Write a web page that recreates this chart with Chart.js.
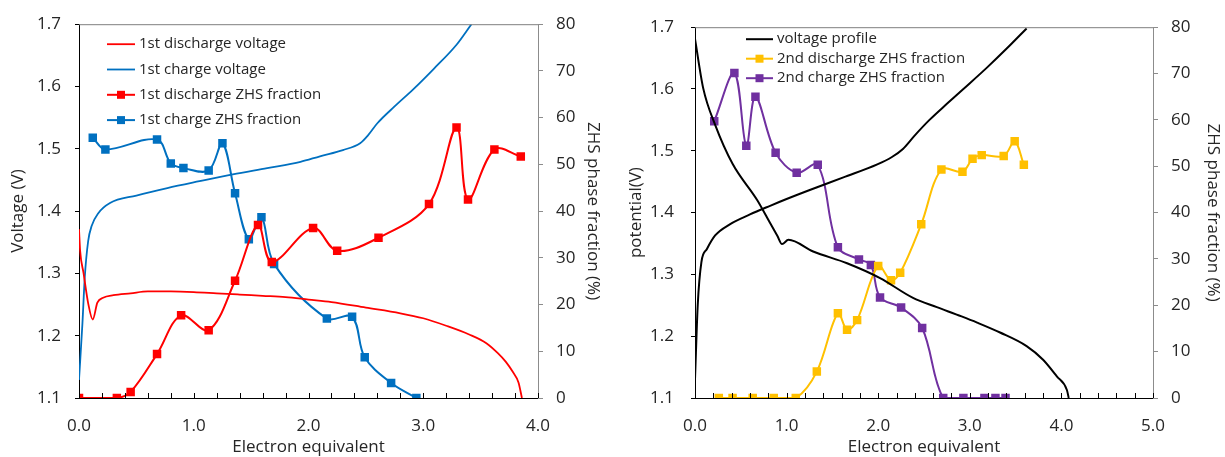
<!DOCTYPE html>
<html>
<head>
<meta charset="utf-8">
<script src="https://cdn.jsdelivr.net/npm/chart.js@4.4.1/dist/chart.umd.min.js"></script>
<style>
  body { margin: 0; background: #fff; }
  .panel { position: absolute; top: 0; height: 457px; }
</style>
</head>
<body>
<div class="panel" style="left:0;width:612px"><canvas id="chartIzq"></canvas></div>
<div class="panel" style="left:612px;width:613px"><canvas id="chartDer"></canvas></div>
<script>
// ---- Panel izquierdo: primer ciclo ----
const descarga1X = [0, 0.01, 0.04, 0.08, 0.12, 0.16, 0.21, 0.3, 0.45, 0.6, 0.8, 1.0, 1.2, 1.4, 1.6, 1.8, 2.0, 2.2, 2.5, 2.8, 3.0, 3.2, 3.4, 3.55, 3.65, 3.72, 3.78, 3.83, 3.86];
const descarga1V = [1.371, 1.336, 1.30, 1.252, 1.226, 1.253, 1.261, 1.265, 1.268, 1.271, 1.271, 1.27, 1.268, 1.266, 1.264, 1.262, 1.258, 1.254, 1.245, 1.236, 1.228, 1.216, 1.202, 1.188, 1.172, 1.158, 1.142, 1.125, 1.10];

const carga1X = [0, 0.03, 0.05, 0.08, 0.11, 0.17, 0.27, 0.5, 0.77, 1.05, 1.34, 1.64, 1.93, 2.10, 2.3, 2.45, 2.52, 2.6, 2.75, 2.91, 3.09, 3.29, 3.42];
const carga1V = [1.129, 1.22, 1.293, 1.352, 1.376, 1.397, 1.413, 1.425, 1.437, 1.448, 1.459, 1.469, 1.479, 1.488, 1.498, 1.509, 1.522, 1.541, 1.568, 1.595, 1.628, 1.667, 1.70];

const zhsDescarga1X = [0, 0.33, 0.45, 0.68, 0.89, 1.13, 1.36, 1.56, 1.68, 2.04, 2.25, 2.61, 3.05, 3.29, 3.39, 3.62, 3.85];
const zhsDescarga1 = [0, 0, 1.3, 9.4, 17.7, 14.5, 25.1, 37.0, 29.1, 36.4, 31.5, 34.3, 41.5, 57.9, 42.5, 53.2, 51.7];

const zhsCarga1X = [0.12, 0.23, 0.68, 0.80, 0.91, 1.13, 1.25, 1.36, 1.48, 1.59, 1.70, 2.16, 2.38, 2.49, 2.72, 2.94];
const zhsCarga1 = [55.7, 53.2, 55.3, 50.2, 49.2, 48.7, 54.5, 43.8, 34.0, 38.7, 28.7, 17.0, 17.4, 8.7, 3.2, 0];

// ---- Panel derecho: segundo ciclo ----
const descarga2X = [0, 0.09, 0.22, 0.41, 0.68, 0.82, 0.9, 0.95, 1.02, 1.29, 1.66, 2.02, 2.38, 2.64, 2.91, 3.08, 3.33, 3.62, 3.80, 3.95, 4.06, 4.08];
const descarga2V = [1.681, 1.601, 1.542, 1.479, 1.42, 1.383, 1.362, 1.349, 1.356, 1.337, 1.318, 1.294, 1.262, 1.247, 1.232, 1.222, 1.206, 1.184, 1.162, 1.135, 1.113, 1.10];

const carga2X = [0, 0.03, 0.07, 0.13, 0.22, 0.38, 0.6, 0.82, 1.0, 1.26, 1.62, 1.99, 2.15, 2.27, 2.4, 2.56, 2.75, 2.93, 3.19, 3.40, 3.62];
const carga2V = [1.13, 1.251, 1.32, 1.341, 1.363, 1.381, 1.397, 1.411, 1.422, 1.437, 1.457, 1.478, 1.49, 1.503, 1.525, 1.55, 1.576, 1.60, 1.635, 1.665, 1.698];

const zhsDescarga2X = [0.26, 0.41, 0.63, 0.86, 1.10, 1.33, 1.56, 1.66, 1.77, 2.0, 2.14, 2.24, 2.47, 2.69, 2.92, 3.03, 3.13, 3.37, 3.49, 3.59];
const zhsDescarga2 = [0, 0, 0, 0, 0, 5.7, 18.3, 14.7, 16.8, 28.5, 25.4, 27.0, 37.5, 49.3, 48.8, 51.6, 52.4, 52.2, 55.4, 50.3];

const zhsCarga2X = [0.21, 0.43, 0.56, 0.66, 0.88, 1.11, 1.34, 1.56, 1.79, 1.92, 2.02, 2.25, 2.48, 2.71, 2.93, 3.16, 3.28, 3.39];
const zhsCarga2 = [59.7, 70.1, 54.4, 65.0, 52.9, 48.6, 50.3, 32.5, 29.9, 28.7, 21.7, 19.5, 15.1, 0, 0, 0, 0, 0];

// ticks
const ticksVoltaje = { min: 1.1, max: 1.7, paso: 0.1 };
const ticksFraccion = { min: 0, max: 80, paso: 10 };

const FUENTE = '"Open Sans", sans-serif';
const TEXTO = "#262626";

function puntos(xs, ys) {
  return xs.map((x, i) => ({ x: x, y: ys[i] }));
}

// Leyenda dibujada dentro del area del grafico
const leyendaPlugin = {
  id: "leyenda",
  afterDraw(chart, args, opts) {
    const ctx = chart.ctx;
    const area = chart.chartArea;
    ctx.save();
    ctx.font = opts.tam + "px " + FUENTE;
    ctx.textBaseline = "middle";
    let y = area.top + opts.arriba;
    chart.data.datasets.forEach(function (ds) {
      if (ds.sinLeyenda) return;
      const x0 = area.left + opts.izq;
      ctx.strokeStyle = ds.borderColor;
      ctx.lineWidth = ds.borderWidth;
      ctx.beginPath();
      ctx.moveTo(x0, y);
      ctx.lineTo(x0 + opts.largo, y);
      ctx.stroke();
      if (ds.pointRadius > 0) {
        ctx.fillStyle = ds.borderColor;
        ctx.fillRect(x0 + opts.largo / 2 - 4, y - 4, 8, 8);
      }
      ctx.fillStyle = TEXTO;
      ctx.fillText(ds.label, x0 + opts.largo + 4, y);
      y += opts.paso;
    });
    ctx.restore();
  },
};

// Borde superior y marcas menores del eje x hacia adentro
const marcoPlugin = {
  id: "marco",
  afterDraw(chart, args, opts) {
    const ctx = chart.ctx;
    const area = chart.chartArea;
    const sx = chart.scales.x;
    ctx.save();
    ctx.strokeStyle = "#7f7f7f";
    ctx.lineWidth = 1;
    ctx.beginPath();
    ctx.moveTo(area.left, area.top + 0.5);
    ctx.lineTo(area.right, area.top + 0.5);
    ctx.stroke();
    ctx.strokeStyle = "#000";
    const n = Math.round((sx.max - sx.min) / 0.2);
    for (let i = 0; i <= n; i++) {
      const px = Math.round(sx.getPixelForValue(sx.min + i * 0.2)) + 0.5;
      ctx.beginPath();
      ctx.moveTo(px, area.bottom);
      ctx.lineTo(px, area.bottom - 5);
      ctx.stroke();
    }
    ctx.restore();
  },
};

function lineaVoltaje(label, datos, color, extra) {
  return Object.assign({
    label: label,
    data: datos,
    yAxisID: "y",
    borderColor: color,
    backgroundColor: color,
    borderWidth: 1.8,
    pointRadius: 0,
    fill: false,
    cubicInterpolationMode: "monotone",
  }, extra || {});
}

function lineaFraccion(label, datos, color) {
  return {
    label: label,
    data: datos,
    yAxisID: "y2",
    borderColor: color,
    backgroundColor: color,
    borderWidth: 2,
    pointStyle: "rect",
    pointRadius: 6,
    pointBorderWidth: 0,
    fill: false,
    tension: 0.35,
  };
}

function opciones(cfg) {
  return {
    responsive: true,
    maintainAspectRatio: false,
    animation: false,
    layout: { padding: { top: cfg.arriba, left: 0, right: 0, bottom: 0 } },
    plugins: {
      legend: { display: false },
      tooltip: { enabled: false },
      leyenda: cfg.leyenda,
    },
    scales: {
      x: {
        type: "linear",
        min: 0,
        max: cfg.xMax,
        afterFit: (s) => { s.height = 457 - cfg.abajo; },
        border: { color: "#000", width: 1 },
        grid: { display: true, drawOnChartArea: false, drawTicks: false },
        ticks: {
          stepSize: 1,
          padding: 18,
          color: TEXTO,
          font: { family: FUENTE, size: 17 },
          callback: (v) => v.toFixed(1),
        },
        title: {
          display: true,
          text: "Electron equivalent",
          color: TEXTO,
          font: { family: FUENTE, size: 17 },
          padding: { top: 0, bottom: 0 },
        },
      },
      y: {
        position: "left",
        min: ticksVoltaje.min,
        max: ticksVoltaje.max,
        afterFit: (s) => { s.width = cfg.anchoIzq; },
        border: { color: "#000", width: 1 },
        grid: { drawOnChartArea: false, tickLength: 4, color: "#000" },
        ticks: {
          stepSize: ticksVoltaje.paso,
          padding: cfg.padIzq,
          color: TEXTO,
          font: { family: FUENTE, size: 17 },
          callback: (v) => v.toFixed(1),
        },
        title: {
          display: true,
          text: cfg.tituloIzq,
          color: TEXTO,
          font: { family: FUENTE, size: 17 },
          padding: { top: cfg.tituloIzqPad, bottom: 0 },
        },
      },
      y2: {
        position: "right",
        min: ticksFraccion.min,
        max: ticksFraccion.max,
        afterFit: (s) => { s.width = cfg.anchoDer; },
        border: { color: "#8c8c8c", width: 1 },
        grid: { drawOnChartArea: false, tickLength: 5, color: "#8c8c8c" },
        ticks: {
          stepSize: ticksFraccion.paso,
          padding: 13,
          color: TEXTO,
          font: { family: FUENTE, size: 17 },
        },
        title: {
          display: true,
          text: "ZHS phase fraction (%)",
          color: TEXTO,
          font: { family: FUENTE, size: 17 },
          padding: { top: cfg.tituloDerPad, bottom: 0 },
        },
      },
    },
  };
}

new Chart(document.getElementById("chartIzq"), {
  type: "line",
  data: {
    datasets: [
      lineaVoltaje("1st discharge voltage", puntos(descarga1X, descarga1V), "#ff0000"),
      lineaVoltaje("1st charge voltage", puntos(carga1X, carga1V), "#0070c0"),
      lineaFraccion("1st discharge ZHS fraction", puntos(zhsDescarga1X, zhsDescarga1), "#ff0000"),
      lineaFraccion("1st charge ZHS fraction", puntos(zhsCarga1X, zhsCarga1), "#0070c0"),
    ],
  },
  options: opciones({
    arriba: 22, abajo: 398, xMax: 4,
    anchoIzq: 79, anchoDer: 74, padIzq: 14,
    tituloIzq: "Voltage (V)", tituloIzqPad: 8, tituloDerPad: 9,
    leyenda: { izq: 28, arriba: 20, largo: 28, paso: 25.3, tam: 15 },
  }),
  plugins: [leyendaPlugin, marcoPlugin],
});

new Chart(document.getElementById("chartDer"), {
  type: "line",
  data: {
    datasets: [
      lineaVoltaje("voltage profile", puntos(descarga2X, descarga2V), "#000000", { borderWidth: 2 }),
      lineaVoltaje("voltage profile", puntos(carga2X, carga2V), "#000000", { borderWidth: 2, sinLeyenda: true }),
      lineaFraccion("2nd discharge ZHS fraction", puntos(zhsDescarga2X, zhsDescarga2), "#ffc000"),
      lineaFraccion("2nd charge ZHS fraction", puntos(zhsCarga2X, zhsCarga2), "#7030a0"),
    ],
  },
  options: opciones({
    arriba: 21, abajo: 398, xMax: 5,
    anchoIzq: 83, anchoDer: 72, padIzq: 17,
    tituloIzq: "potential(V)", tituloIzqPad: 14, tituloDerPad: 2,
    leyenda: { izq: 51, arriba: 12, largo: 27, paso: 19.5, tam: 15 },
  }),
  plugins: [leyendaPlugin, marcoPlugin],
});
</script>
</body>
</html>
